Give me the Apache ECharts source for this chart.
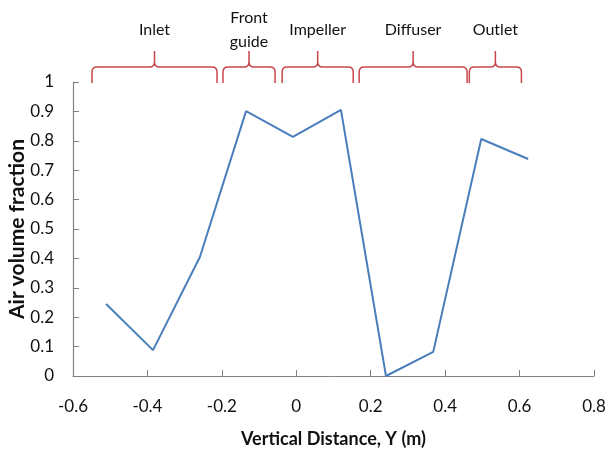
<!DOCTYPE html>
<html>
<head>
<meta charset="utf-8">
<script src="https://cdn.jsdelivr.net/npm/echarts@6/dist/echarts.min.js"></script>
<style>
  html, body { margin: 0; padding: 0; background: #fff; }
  #main { width: 608px; height: 453px; }
</style>
</head>
<body>
<div id="main"></div>
<script>
// measured profile
var distY = [-0.511, -0.385, -0.259, -0.135, -0.009, 0.120, 0.241, 0.368, 0.497, 0.623];
var airFraction = [0.245, 0.088, 0.405, 0.901, 0.813, 0.905, 0.0, 0.082, 0.806, 0.738];

// sections along the pump (braces on top)
var sectionNames = ['Inlet', 'Front\nguide', 'Impeller', 'Diffuser', 'Outlet'];
var sectionStart = [-0.549, -0.197, -0.038, 0.169, 0.465];
var sectionEnd = [-0.213, -0.057, 0.153, 0.459, 0.605];

var chart = echarts.init(document.getElementById('main'));

var lineData = distY.map(function (x, i) { return [x, airFraction[i]]; });
var braceData = sectionNames.map(function (n, i) { return [sectionStart[i], sectionEnd[i], n]; });

function renderBrace(params, api) {
  var a = api.coord([api.value(0), 1]);
  var b = api.coord([api.value(1), 1]);
  var x0 = a[0], x1 = b[0], xm = (x0 + x1) / 2;
  var yEnd = a[1] + 1, yTop = yEnd - 16, yTip = yTop - 16;
  var r = 5;
  var d = 'M' + x0 + ',' + yEnd +
    ' L' + x0 + ',' + (yTop + r) +
    ' Q' + x0 + ',' + yTop + ' ' + (x0 + r) + ',' + yTop +
    ' L' + (xm - r) + ',' + yTop +
    ' Q' + xm + ',' + yTop + ' ' + xm + ',' + (yTop - r) +
    ' L' + xm + ',' + yTip +
    ' M' + xm + ',' + (yTop - r) +
    ' Q' + xm + ',' + yTop + ' ' + (xm + r) + ',' + yTop +
    ' L' + (x1 - r) + ',' + yTop +
    ' Q' + x1 + ',' + yTop + ' ' + x1 + ',' + (yTop + r) +
    ' L' + x1 + ',' + yEnd;
  return {
    type: 'group',
    children: [
      {
        type: 'path',
        shape: { pathData: d },
        style: { fill: null, stroke: '#c8474d', lineWidth: 1.5 }
      },
      {
        type: 'text',
        style: {
          text: api.value(2),
          x: xm,
          y: yTip - 21,
          align: 'center',
          verticalAlign: 'middle',
          fill: '#111',
          font: '16px Lato',
          lineHeight: 24
        }
      }
    ]
  };
}

var option = {
  animation: false,
  backgroundColor: '#fff',
  textStyle: { fontFamily: 'Lato' },
  grid: { left: 73, right: 14, top: 82, bottom: 77, containLabel: false, outerBoundsMode: 'none' },
  xAxis: {
    type: 'value',
    min: -0.6,
    max: 0.8,
    interval: 0.2,
    name: 'Vertical Distance, Y (m)',
    nameLocation: 'middle',
    nameGap: 54,
    nameTextStyle: { fontSize: 18, fontWeight: 'bold', color: '#111' },
    axisLine: { show: true, lineStyle: { color: '#808080', width: 1 } },
    axisTick: { show: true, inside: true, length: 6, lineStyle: { color: '#808080' } },
    axisLabel: { fontSize: 17, color: '#111', margin: 22 },
    splitLine: { show: false }
  },
  yAxis: {
    type: 'value',
    min: 0,
    max: 1,
    interval: 0.1,
    name: 'Air volume fraction',
    nameLocation: 'middle',
    nameGap: 45,
    nameMoveOverlap: false,
    nameTextStyle: { fontSize: 21, fontWeight: 'bold', color: '#111' },
    axisLine: { show: true, onZero: false, lineStyle: { color: '#808080', width: 1.2 } },
    axisTick: { show: true, inside: true, length: 6, lineStyle: { color: '#808080' } },
    axisLabel: { fontSize: 17, color: '#111', margin: 19 },
    splitLine: { show: false }
  },
  series: [
    {
      type: 'line',
      data: lineData,
      showSymbol: false,
      lineStyle: { color: '#4a7ebb', width: 2 },
      itemStyle: { color: '#4a7ebb' }
    },
    {
      type: 'custom',
      clip: false,
      silent: true,
      renderItem: renderBrace,
      data: braceData
    }
  ]
};

chart.setOption(option);
</script>
</body>
</html>
